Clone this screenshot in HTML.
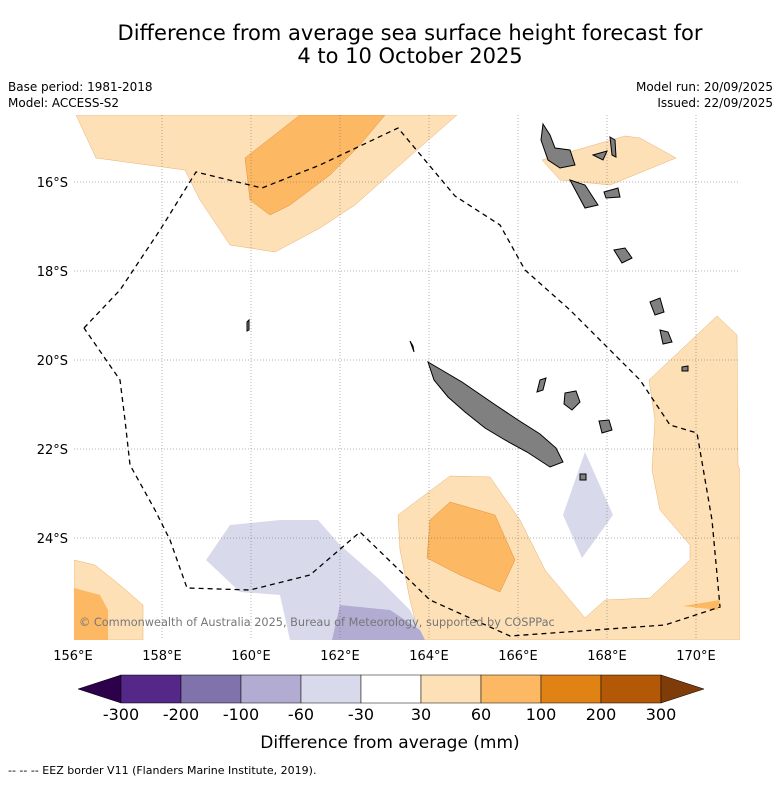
<!DOCTYPE html>
<html><head><meta charset="utf-8"><style>
body{margin:0;background:#fff;font-family:"DejaVu Sans","Liberation Sans",sans-serif}
svg text{font-family:"DejaVu Sans","Liberation Sans",sans-serif}
</style></head><body>
<svg width="781" height="781" viewBox="0 0 781 781" xmlns="http://www.w3.org/2000/svg">
<rect width="781" height="781" fill="#fff"/>
<text x="410" y="40" font-size="21" text-anchor="middle">Difference from average sea surface height forecast for</text>
<text x="410" y="63" font-size="21" text-anchor="middle">4 to 10 October 2025</text>
<text x="8" y="91" font-size="12">Base period: 1981-2018</text>
<text x="8" y="107" font-size="12">Model: ACCESS-S2</text>
<text x="773" y="91" font-size="12" text-anchor="end">Model run: 20/09/2025</text>
<text x="773" y="107" font-size="12" text-anchor="end">Issued: 22/09/2025</text>
<defs><clipPath id="mc"><rect x="74" y="115" width="666" height="525"/></clipPath></defs>
<g clip-path="url(#mc)">
<polygon fill="#fee0b6" stroke="#e8b070" stroke-width="0.5" points="76,115 96,158 185,170 200,200 230,245 275,252 320,228 355,205 400,165 457,115"/>
<polygon fill="#fdb863" stroke="#e09040" stroke-width="0.5" points="300,115 245,158 250,200 270,215 290,205 330,175 360,145 385,115"/>
<polygon fill="#fee0b6" stroke="#e8b070" stroke-width="0.5" points="542,160 625,136 640,138 676,158 610,185 560,180"/>
<polygon fill="#fee0b6" stroke="#e8b070" stroke-width="0.5" points="398,515 450,476 490,477 520,520 545,570 585,618 605,600 650,598 690,560 690,545 660,510 652,470 655,420 649,380 717,316 737,335 738,465 740,470 740,640 420,640 410,600 400,550"/>
<polygon fill="#fdb863" stroke="#e09040" stroke-width="0.5" points="430,520 450,502 495,515 515,560 500,592 460,575 427,558"/>
<polygon fill="#fdb863" points="683,606 720,600 718,610"/>
<polygon fill="#fee0b6" stroke="#e8b070" stroke-width="0.5" points="74,560 95,565 120,585 143,605 143,640 74,640"/>
<polygon fill="#fdb863" points="74,588 100,595 108,610 108,640 74,640"/>
<polygon fill="#d8daeb" points="206,560 230,525 280,520 318,520 340,545 380,580 410,610 425,640 290,640 280,595 240,592"/>
<polygon fill="#b2abd2" points="340,605 390,610 420,630 425,640 332,640"/>
<polygon fill="#d8daeb" points="585,452 613,515 582,558 563,515"/>
<g id="grid"></g>
<g fill="#808080" stroke="#000" stroke-width="1">
<polygon points="428,362 445,372 462,382 478,393 497,406 518,420 540,434 556,448 563,462 550,467 527,452 505,440 485,428 465,412 448,397 434,380"/>
<polygon points="543,124 550,135 555,148 570,150 575,165 560,168 548,160 541,140"/>
<polygon points="570,180 585,185 598,205 585,208 578,195"/>
<polygon points="593,155 607,151 603,160"/>
<polygon points="610,137 615,140 616,157 612,155"/>
<polygon points="604,192 618,188 620,197 606,198"/>
<polygon points="614,250 625,248 632,258 622,263"/>
<polygon points="650,302 660,298 664,312 655,315"/>
<polygon points="660,330 668,332 672,342 663,344"/>
<polygon points="682,367 688,366 688,371 682,371"/>
<polygon points="565,393 576,391 580,402 572,410 564,404"/>
<polygon points="599,421 609,420 612,430 602,433"/>
<polygon points="540,380 546,378 543,390 537,392"/>
<polygon points="580,474 586,474 586,480 580,480"/>
<polygon points="247,322 249,320 249,330 247,331"/>
<polygon points="410,341 413,346 414,352"/>
</g>
<polyline fill="none" stroke="#000" stroke-width="1.3" stroke-dasharray="5,4" points="84,328 120,290 160,230 196,172 262,188 320,165 398,128 455,196 500,225 525,270 570,310 600,340 640,380 670,425 697,433 712,520 720,607 665,625 510,636 430,600 360,532 310,575 250,590 187,588 170,540 155,510 130,465 125,420 120,380 84,328"/>
<text x="79" y="626" font-size="11.3" fill="#777">© Commonwealth of Australia 2025, Bureau of Meteorology, supported by COSPPac</text>
</g>
<g id="axes"></g>
<g id="cbar"></g>
<text x="390" y="748" font-size="17" text-anchor="middle">Difference from average (mm)</text>
<text x="8" y="774" font-size="11">--  --  -- EEZ border V11 (Flanders Marine Institute, 2019).</text>
</svg>
<script>
const lonTicks=[156,158,160,162,164,166,168,170];
const latTicks=[16,18,20,22,24];
const cbLevels=["-300","-200","-100","-60","-30","30","60","100","200","300"];
const cbColors=["#542788","#8073ac","#b2abd2","#d8daeb","#ffffff","#fee0b6","#fdb863","#e08214","#b35806"];
const NS="http://www.w3.org/2000/svg";
const xLon=l=>73+(l-156)*44.5;
const yLat=l=>182+(l-16)*44.5;
function mk(t,a,p){const e=document.createElementNS(NS,t);for(const k in a)e.setAttribute(k,a[k]);p.appendChild(e);return e;}
const grid=document.getElementById('grid'),axes=document.getElementById('axes'),cb=document.getElementById('cbar');
lonTicks.forEach(l=>{const x=xLon(l);
 if(l>156){const g=mk('line',{x1:x,x2:x,y1:115,y2:640,stroke:'#666','stroke-width':0.5,'stroke-dasharray':'1,2'},grid);
 
 }
 const t=mk('text',{x:x,y:660,'font-size':13,'text-anchor':'middle'},axes);t.textContent=l+'°E';
 
 });
latTicks.forEach(l=>{const y=yLat(l);
 const g=mk('line',{x1:74,x2:740,y1:y,y2:y,stroke:'#666','stroke-width':0.5,'stroke-dasharray':'1,2'},grid);
 
 
 const t=mk('text',{x:68,y:y+5,'font-size':13,'text-anchor':'end'},axes);t.textContent=l+'°S';
 
 });
const x0=121,w=60,y0=675,h=28;
const lt=mk('polygon',{points:`${x0},${y0} ${x0},${y0+h} 78,${y0+h/2}`,fill:'#2d004b',stroke:'#000','stroke-width':0.5},cb);


cbColors.forEach((c,i)=>{const r=mk('rect',{x:x0+i*w,y:y0,width:w,height:h,fill:c,stroke:'#000','stroke-width':0.5},cb);
 
 });
const xe=x0+cbColors.length*w;
const rt=mk('polygon',{points:`${xe},${y0} ${xe},${y0+h} 704,${y0+h/2}`,fill:'#7f3b08',stroke:'#000','stroke-width':0.5},cb);


cbLevels.forEach((s,i)=>{const t=mk('text',{x:x0+i*w,y:720,'font-size':16,'text-anchor':'middle'},cb);t.textContent=s;
 
 });
</script>
</body></html>
